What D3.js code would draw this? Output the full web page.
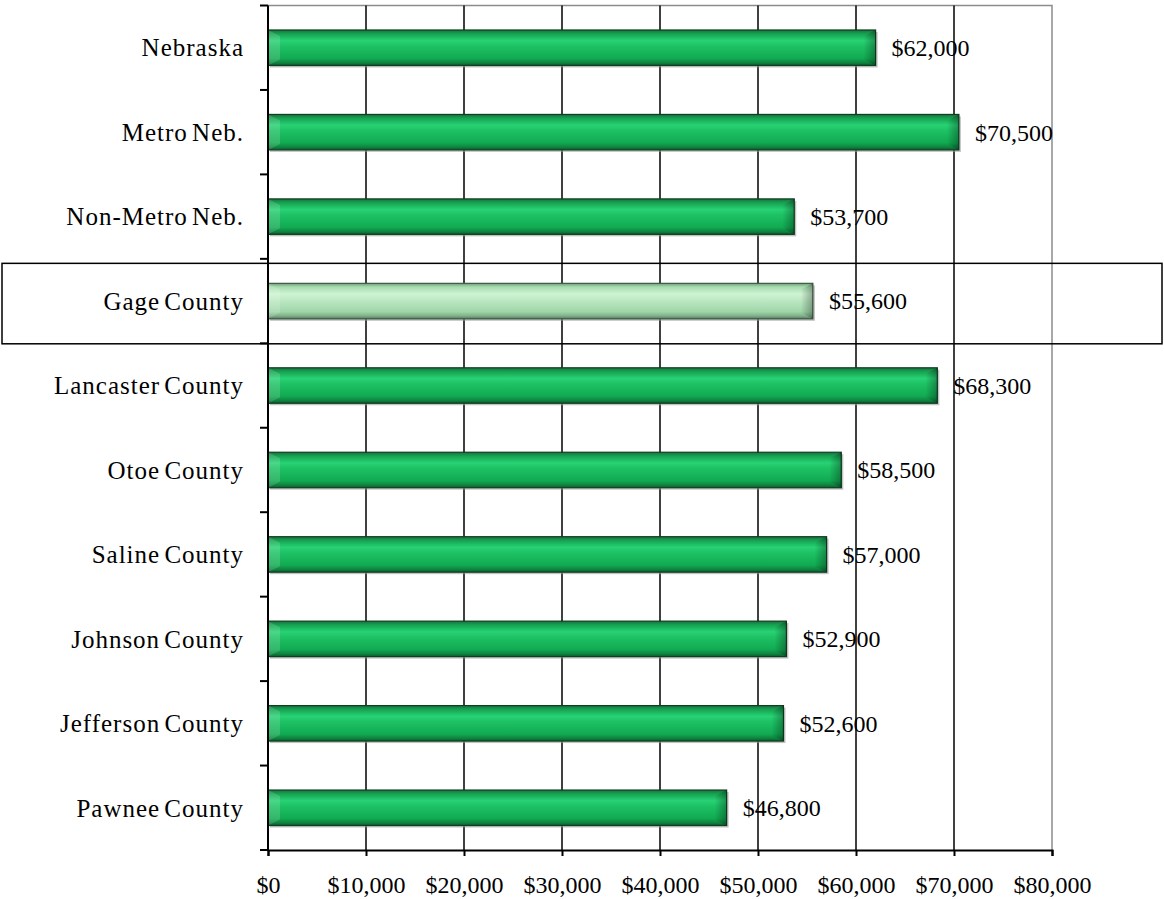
<!DOCTYPE html>
<html><head><meta charset="utf-8">
<script src="https://cdn.jsdelivr.net/npm/d3@7"></script>
<style>body{margin:0;background:#fff;}svg{display:block;}text{font-family:"Liberation Serif","Times New Roman",serif;}</style>
</head><body>
<svg id="c" width="1164" height="899"></svg>
<script>
const categories = ["Nebraska","Metro Neb.","Non-Metro Neb.","Gage County","Lancaster County","Otoe County","Saline County","Johnson County","Jefferson County","Pawnee County"];
const values = [62000,70500,53700,55600,68300,58500,57000,52900,52600,46800];
const valueLabels = ["$62,000","$70,500","$53,700","$55,600","$68,300","$58,500","$57,000","$52,900","$52,600","$46,800"];
const xTicks = [0,10000,20000,30000,40000,50000,60000,70000,80000];
const highlight = "Gage County";

const svg = d3.select("#c");
const L = 268, R = 1052, T = 5.5, B = 850;
const x = d3.scaleLinear().domain([0,80000]).range([L,R]);
const y = d3.scaleBand().domain(categories).range([T,B]).paddingInner(0.58).paddingOuter(0.29);
const band = (B-T)/categories.length;

const defs = svg.append("defs");
function grad(id, stops){
  const g = defs.append("linearGradient").attr("id",id).attr("x1",0).attr("y1",0).attr("x2",0).attr("y2",1);
  stops.forEach(s=>g.append("stop").attr("offset",s[0]).attr("stop-color",s[1]));
}
grad("gGreen",[[0,"#1d6e3e"],[0.1,"#15a050"],[0.3,"#28d274"],[0.45,"#1ec265"],[0.8,"#11aa52"],[0.92,"#0e8540"],[1,"#0b5a2c"]]);
grad("gLight",[[0,"#6f9a78"],[0.1,"#a6dcae"],[0.3,"#cff3d3"],[0.45,"#bfeac5"],[0.8,"#9fd6a8"],[0.92,"#7fb08a"],[1,"#54785c"]]);
const gr = defs.append("linearGradient").attr("id","gEnd").attr("x1",0).attr("y1",0).attr("x2",1).attr("y2",0);
gr.append("stop").attr("offset",0).attr("stop-color","#000").attr("stop-opacity",0);
gr.append("stop").attr("offset",1).attr("stop-color","#000").attr("stop-opacity",0.3);

// plot border (gray top/right)
svg.append("path").attr("d",`M${L},${T}H${R}V${B}`).attr("fill","none").attr("stroke","#8c8c8c").attr("stroke-width",1.5);

// vertical grid
svg.append("g").selectAll("line").data(xTicks.filter(d=>d>0&&d<80000)).join("line")
  .attr("x1",d=>x(d)).attr("x2",d=>x(d)).attr("y1",T).attr("y2",B)
  .attr("stroke","#000").attr("stroke-width",1.5);

// highlight box
const hi = categories.indexOf(highlight);
svg.append("rect").attr("x",2).attr("y",T+band*hi+4.5).attr("width",1160).attr("height",band-4)
  .attr("fill","none").attr("stroke","#000").attr("stroke-width",1.5);

// bars
const bars = svg.append("g").selectAll("g").data(categories).join("g");
bars.append("rect").attr("x",x(0)+2).attr("y",d=>y(d)+2).attr("width",(d,i)=>x(values[i])-x(0)).attr("height",y.bandwidth())
  .attr("fill","#9a9a9a").attr("opacity",0.6);
bars.append("rect").attr("x",x(0)).attr("y",d=>y(d)).attr("width",(d,i)=>x(values[i])-x(0)).attr("height",y.bandwidth())
  .attr("fill",d=>d===highlight?"url(#gLight)":"url(#gGreen)")
  .attr("stroke",d=>d===highlight?"#3c5a42":"#0e3f20").attr("stroke-width",1.2);
bars.append("path").attr("d",(d,i)=>{const x1=x(values[i]),y0=y(d),h=y.bandwidth();
    return `M${x1-12},${y0+6}L${x1},${y0}V${y0+h}L${x1-12},${y0+h-6}Z`;})
  .attr("fill","url(#gEnd)");
bars.append("path").attr("d",(d,i)=>{const x0=x(0),y0=y(d),h=y.bandwidth();
    return `M${x0},${y0}L${x0+12},${y0+6}V${y0+h-6}L${x0},${y0+h}Z`;})
  .attr("fill","#fff").attr("opacity",0.15);

// value labels
svg.append("g").selectAll("text").data(categories).join("text")
  .attr("x",(d,i)=>x(values[i])+16).attr("y",d=>y(d)+y.bandwidth()/2).attr("dy","0.35em")
  .attr("font-size",24).attr("fill","#000").text((d,i)=>valueLabels[i]);

// y axis
const yAxis = svg.append("g").attr("transform",`translate(${L},0)`);
yAxis.append("line").attr("x1",0).attr("x2",0).attr("y1",T).attr("y2",B).attr("stroke","#000").attr("stroke-width",2);
yAxis.selectAll(".tk").data(d3.range(categories.length+1)).join("line")
  .attr("x1",-8).attr("x2",0).attr("y1",i=>T+band*i).attr("y2",i=>T+band*i).attr("stroke","#000").attr("stroke-width",2);
yAxis.selectAll("text").data(categories).join("text")
  .attr("x",-24).attr("y",d=>y(d)+y.bandwidth()/2).attr("dy","0.35em").attr("text-anchor","end")
  .attr("font-size",25).attr("letter-spacing",1).attr("word-spacing",-3).attr("fill","#000").text(d=>d);

// x axis
const xAxis = d3.axisBottom(x).tickValues(xTicks).tickSize(6).tickPadding(20)
  .tickFormat(d=>"$"+d3.format(",")(d));
const gx = svg.append("g").attr("transform",`translate(0,${B})`).call(xAxis);
gx.select(".domain").attr("stroke","#000").attr("stroke-width",2);
gx.selectAll(".tick line").attr("stroke","#000").attr("stroke-width",2);
gx.selectAll(".tick text").attr("font-size",24).attr("fill","#000").attr("font-family","Liberation Serif, Times New Roman, serif");
</script>
</body></html>
